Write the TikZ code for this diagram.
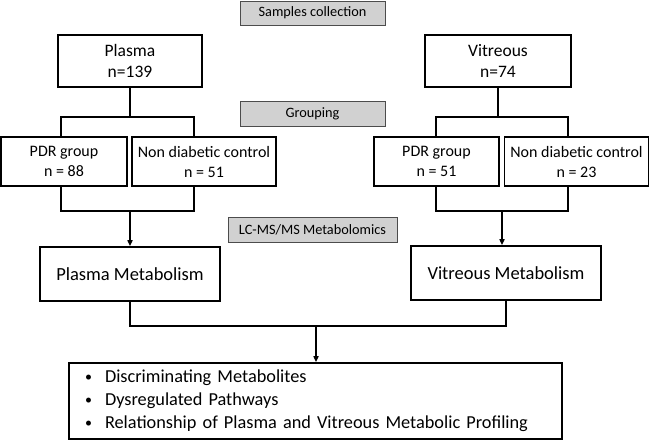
\documentclass[tikz,border=0pt]{standalone}
\usepackage{fontspec}
\setmainfont{Carlito}
\usetikzlibrary{arrows.meta}
\newcommand{\blt}{\makebox[20pt][l]{\raisebox{1pt}{\fontsize{14}{14}\selectfont\textbullet}}}
\begin{document}
\begin{tikzpicture}[x=1pt,y=-1pt,
  box/.style={draw, line width=1.6pt, align=center, inner sep=0pt, font=\fontsize{16}{20}\selectfont},
  bigbox/.style={box, font=\fontsize{17.5}{21}\selectfont},
  metabox/.style={box, font=\fontsize{18.5}{22}\selectfont},
  gbox/.style={draw=black!70, fill=black!18, line width=0.8pt, inner sep=0pt, font=\fontsize{14.3}{17}\selectfont},
  conn/.style={line width=1.6pt},
  arr/.style={conn, -{Triangle[length=6pt,width=5pt]}}]
\useasboundingbox (0,0) rectangle (650,441);
% gray labels
\node[gbox, minimum width=145pt, minimum height=24pt] (samp) at (312.5,13) {Samples collection};
\node[gbox, minimum width=145pt, minimum height=25pt] (group) at (312.5,113.5) {Grouping};
\node[gbox, minimum width=169pt, minimum height=25pt] (lcms) at (312.5,229.5) {LC-MS/MS Metabolomics};
% sample boxes
\node[bigbox, minimum width=144pt, minimum height=52pt] (plasma) at (130,61) {Plasma\\n=139};
\node[bigbox, minimum width=146pt, minimum height=52pt] (vitreous) at (498,61) {Vitreous\\n=74};
% groups
\node[box, minimum width=126pt, minimum height=49pt] (pdr1) at (64,161.5) {PDR group\\n = 88};
\node[box, minimum width=144pt, minimum height=49pt] (nd1) at (204,161.5) {Non diabetic control\\n = 51};
\node[box, minimum width=125pt, minimum height=49pt] (pdr2) at (436.5,161.5) {PDR group\\n = 51};
\node[box, minimum width=144pt, minimum height=49pt] (nd2) at (576.5,161.5) {Non diabetic control\\n = 23};
% metabolism
\node[metabox, minimum width=180pt, minimum height=54pt] (pm) at (130,274) {Plasma Metabolism};
\node[metabox, minimum width=190pt, minimum height=54pt] (vm) at (506,273) {Vitreous Metabolism};
% results
\node[box, minimum width=493pt, minimum height=76pt, text width=461pt, align=left,
      font=\fontsize{18.3}{23}\selectfont] (res) at (315.5,401)
  {\blt Discriminating Metabolites\\
   \blt Dysregulated Pathways\\
   \blt Relationship of Plasma and Vitreous Metabolic Profiling};
% coordinates
\coordinate (pj) at (130,117); \coordinate (pl) at (61,117); \coordinate (pr) at (194,117);
\coordinate (pbl) at (61,211); \coordinate (pbr) at (194,211); \coordinate (pbj) at (130,211);
\coordinate (vj) at (498,117); \coordinate (vl) at (436,117); \coordinate (vr) at (568,117);
\coordinate (vbl) at (436,211); \coordinate (vbr) at (568,211); \coordinate (vbj) at (502,211);
\coordinate (ml) at (130,326); \coordinate (mr) at (506,326); \coordinate (mj) at (316,326);
% plasma branch
\draw[conn] (plasma.south) -- (pj);
\draw[conn] (pdr1.north -| pl) -- (pl) -- (pr) -- (nd1.north -| pr);
\draw[conn] (pdr1.south -| pbl) -- (pbl) -- (pbr) -- (nd1.south -| pbr);
\draw[arr] (pbj) -- (pm.north);
% vitreous branch
\draw[conn] (vitreous.south) -- (vj);
\draw[conn] (pdr2.north -| vl) -- (vl) -- (vr) -- (nd2.north -| vr);
\draw[conn] (pdr2.south -| vbl) -- (vbl) -- (vbr) -- (nd2.south -| vbr);
\draw[arr] (vbj) -- (vm.north -| vbj);
% merge
\draw[conn] (pm.south) -- (ml) -- (mr) -- (vm.south);
\draw[arr] (mj) -- (res.north -| mj);
\end{tikzpicture}
\end{document}
